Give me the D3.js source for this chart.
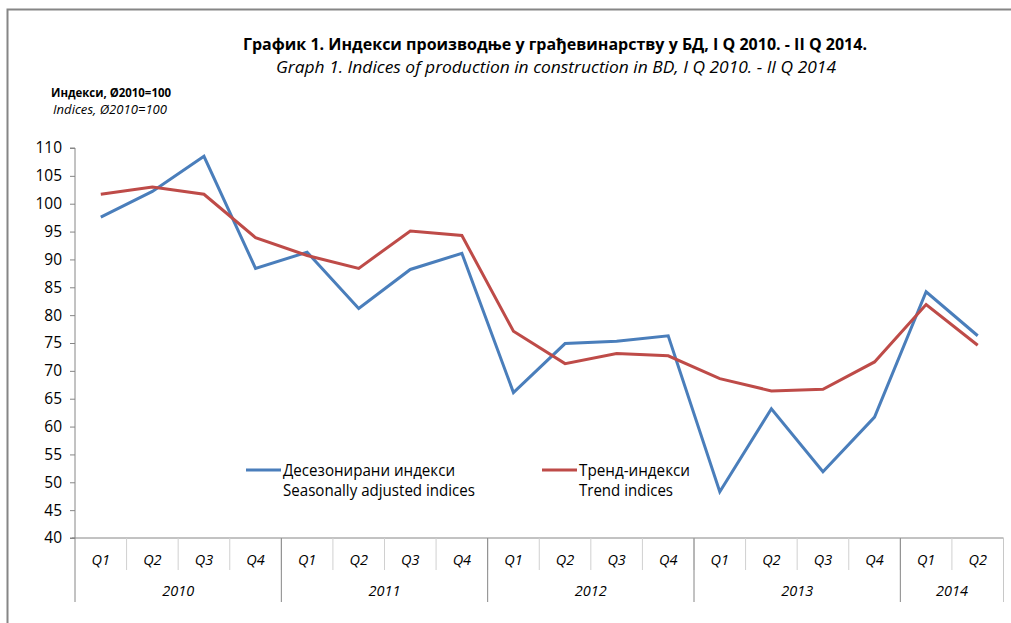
<!DOCTYPE html>
<html>
<head>
<meta charset="utf-8">
<script src="https://cdn.jsdelivr.net/npm/d3@7"></script>
<style>
  body { margin: 0; background: #fff; }
  text { font-family: "Open Sans", "Noto Sans", sans-serif; fill: #000; }
</style>
</head>
<body>
<div id="chart"></div>
<script>
const quarters = ["Q1","Q2","Q3","Q4","Q1","Q2","Q3","Q4","Q1","Q2","Q3","Q4","Q1","Q2","Q3","Q4","Q1","Q2"]
const years = ["2010","2011","2012","2013","2014"]
const quartersPerYear = [4, 4, 4, 4, 2]
const seasAdj = [97.6, 102.2, 108.5, 88.4, 91.3, 81.2, 88.2, 91.1, 66.1, 74.9, 75.3, 76.3, 48.3, 63.2, 51.9, 61.7, 84.2, 76.3]
const trend = [101.7, 103.0, 101.7, 93.9, 90.7, 88.4, 95.1, 94.3, 77.1, 71.3, 73.1, 72.7, 68.6, 66.4, 66.7, 71.6, 81.9, 74.6]
const yTicks = [40,45,50,55,60,65,70,75,80,85,90,95,100,105,110]

const width = 1011
const height = 623
const margin = {top: 148, right: 7.5, bottom: 85, left: 75}
const axisColor = "#868686"

const svg = d3.select("#chart").append("svg")
    .attr("width", width)
    .attr("height", height)

// outer frame
svg.append("path")
    .attr("d", "M7.5," + height + " V9.5 H" + width)
    .attr("fill", "none")
    .attr("stroke", axisColor)
    .attr("stroke-width", 2)

const x = d3.scaleBand()
    .domain(d3.range(quarters.length))
    .range([margin.left, width - margin.right])
    .padding(0)

const y = d3.scaleLinear()
    .domain([40, 110])
    .range([height - margin.bottom, margin.top])

// titles
svg.append("text")
    .attr("x", 555).attr("y", 50)
    .attr("text-anchor", "middle")
    .style("font-weight", "bold")
    .style("font-size", "16px")
    .attr("textLength", 624).attr("lengthAdjust", "spacingAndGlyphs")
    .text("График 1. Индекси производње у грађевинарству у БД, I Q 2010. - II Q 2014.")
svg.append("text")
    .attr("x", 556).attr("y", 73)
    .attr("text-anchor", "middle")
    .style("font-style", "italic")
    .style("font-size", "16px")
    .attr("textLength", 560).attr("lengthAdjust", "spacingAndGlyphs")
    .text("Graph 1. Indices of production in construction in BD, I Q 2010. - II Q 2014")

svg.append("text")
    .attr("x", 51).attr("y", 97)
    .style("font-weight", "bold")
    .style("font-size", "12.5px")
    .attr("textLength", 120).attr("lengthAdjust", "spacingAndGlyphs")
    .text("Индекси, Ø2010=100")
svg.append("text")
    .attr("x", 53).attr("y", 114)
    .style("font-style", "italic")
    .style("font-size", "12.5px")
    .attr("textLength", 114).attr("lengthAdjust", "spacingAndGlyphs")
    .text("Indices, Ø2010=100")

// y axis
const yAxis = svg.append("g")
    .attr("transform", "translate(" + margin.left + ",0)")
    .call(d3.axisLeft(y).tickValues(yTicks).tickSize(5).tickPadding(8))
yAxis.selectAll("path, line").attr("stroke", axisColor)
yAxis.select(".domain").attr("d", "M-5," + y(110) + "H0V" + y(40) + "H-5")
yAxis.selectAll("text")
    .style("font-family", "'Open Sans', sans-serif")
    .style("font-size", "15.5px")
    .attr("fill", "#000")

// x axis: quarter row + year row
const base = y(40)
const g = svg.append("g")
g.append("line")
    .attr("x1", margin.left - 3).attr("x2", width - margin.right)
    .attr("y1", base).attr("y2", base)
    .attr("stroke", axisColor)

quarters.forEach((q, i) => {
    if (i > 0) {
        g.append("line")
            .attr("x1", x(i)).attr("x2", x(i))
            .attr("y1", base).attr("y2", base + 32)
            .attr("stroke", "#d0d0d0")
    }
    g.append("text")
        .attr("x", x(i) + x.bandwidth() / 2)
        .attr("y", base + 27)
        .attr("text-anchor", "middle")
        .style("font-style", "italic")
        .style("font-size", "14.5px")
        .text(q)
})

let start = 0
years.forEach((yr, k) => {
    const end = start + quartersPerYear[k]
    const x0 = x(start)
    const x1 = end < quarters.length ? x(end) : x.range()[1]
    g.append("line")
        .attr("x1", x0).attr("x2", x0)
        .attr("y1", base).attr("y2", base + 64)
        .attr("stroke", axisColor)
    g.append("text")
        .attr("x", (x0 + x1) / 2)
        .attr("y", base + 58)
        .attr("text-anchor", "middle")
        .style("font-style", "italic")
        .style("font-size", "14.5px")
        .text(yr)
    start = end
})
g.append("line")
    .attr("x1", x.range()[1]).attr("x2", x.range()[1])
    .attr("y1", base).attr("y2", base + 64)
    .attr("stroke", "#c8c8c8")

// lines
const line = d3.line()
    .x((d, i) => x(i) + x.bandwidth() / 2)
    .y(d => y(d))

svg.append("path")
    .datum(seasAdj)
    .attr("d", line)
    .attr("fill", "none")
    .attr("stroke", "#4A7EBB")
    .attr("stroke-width", 3)

svg.append("path")
    .datum(trend)
    .attr("d", line)
    .attr("fill", "none")
    .attr("stroke", "#BE4B48")
    .attr("stroke-width", 3)

// legend
const legend = [
    {color: "#4A7EBB", x: 246, l1: "Десезонирани индекси", l2: "Seasonally adjusted indices", w1: 172, w2: 192},
    {color: "#BE4B48", x: 542, l1: "Тренд-индекси", l2: "Trend indices", w1: 111, w2: 94}
]
legend.forEach(d => {
    svg.append("line")
        .attr("x1", d.x).attr("x2", d.x + 35)
        .attr("y1", 470).attr("y2", 470)
        .attr("stroke", d.color)
        .attr("stroke-width", 3)
    svg.append("text")
        .attr("x", d.x + 37).attr("y", 475.5)
        .style("font-size", "16px")
        .attr("textLength", d.w1).attr("lengthAdjust", "spacingAndGlyphs")
        .text(d.l1)
    svg.append("text")
        .attr("x", d.x + 37).attr("y", 496)
        .style("font-size", "16px")
        .attr("textLength", d.w2).attr("lengthAdjust", "spacingAndGlyphs")
        .text(d.l2)
})
</script>
</body>
</html>
